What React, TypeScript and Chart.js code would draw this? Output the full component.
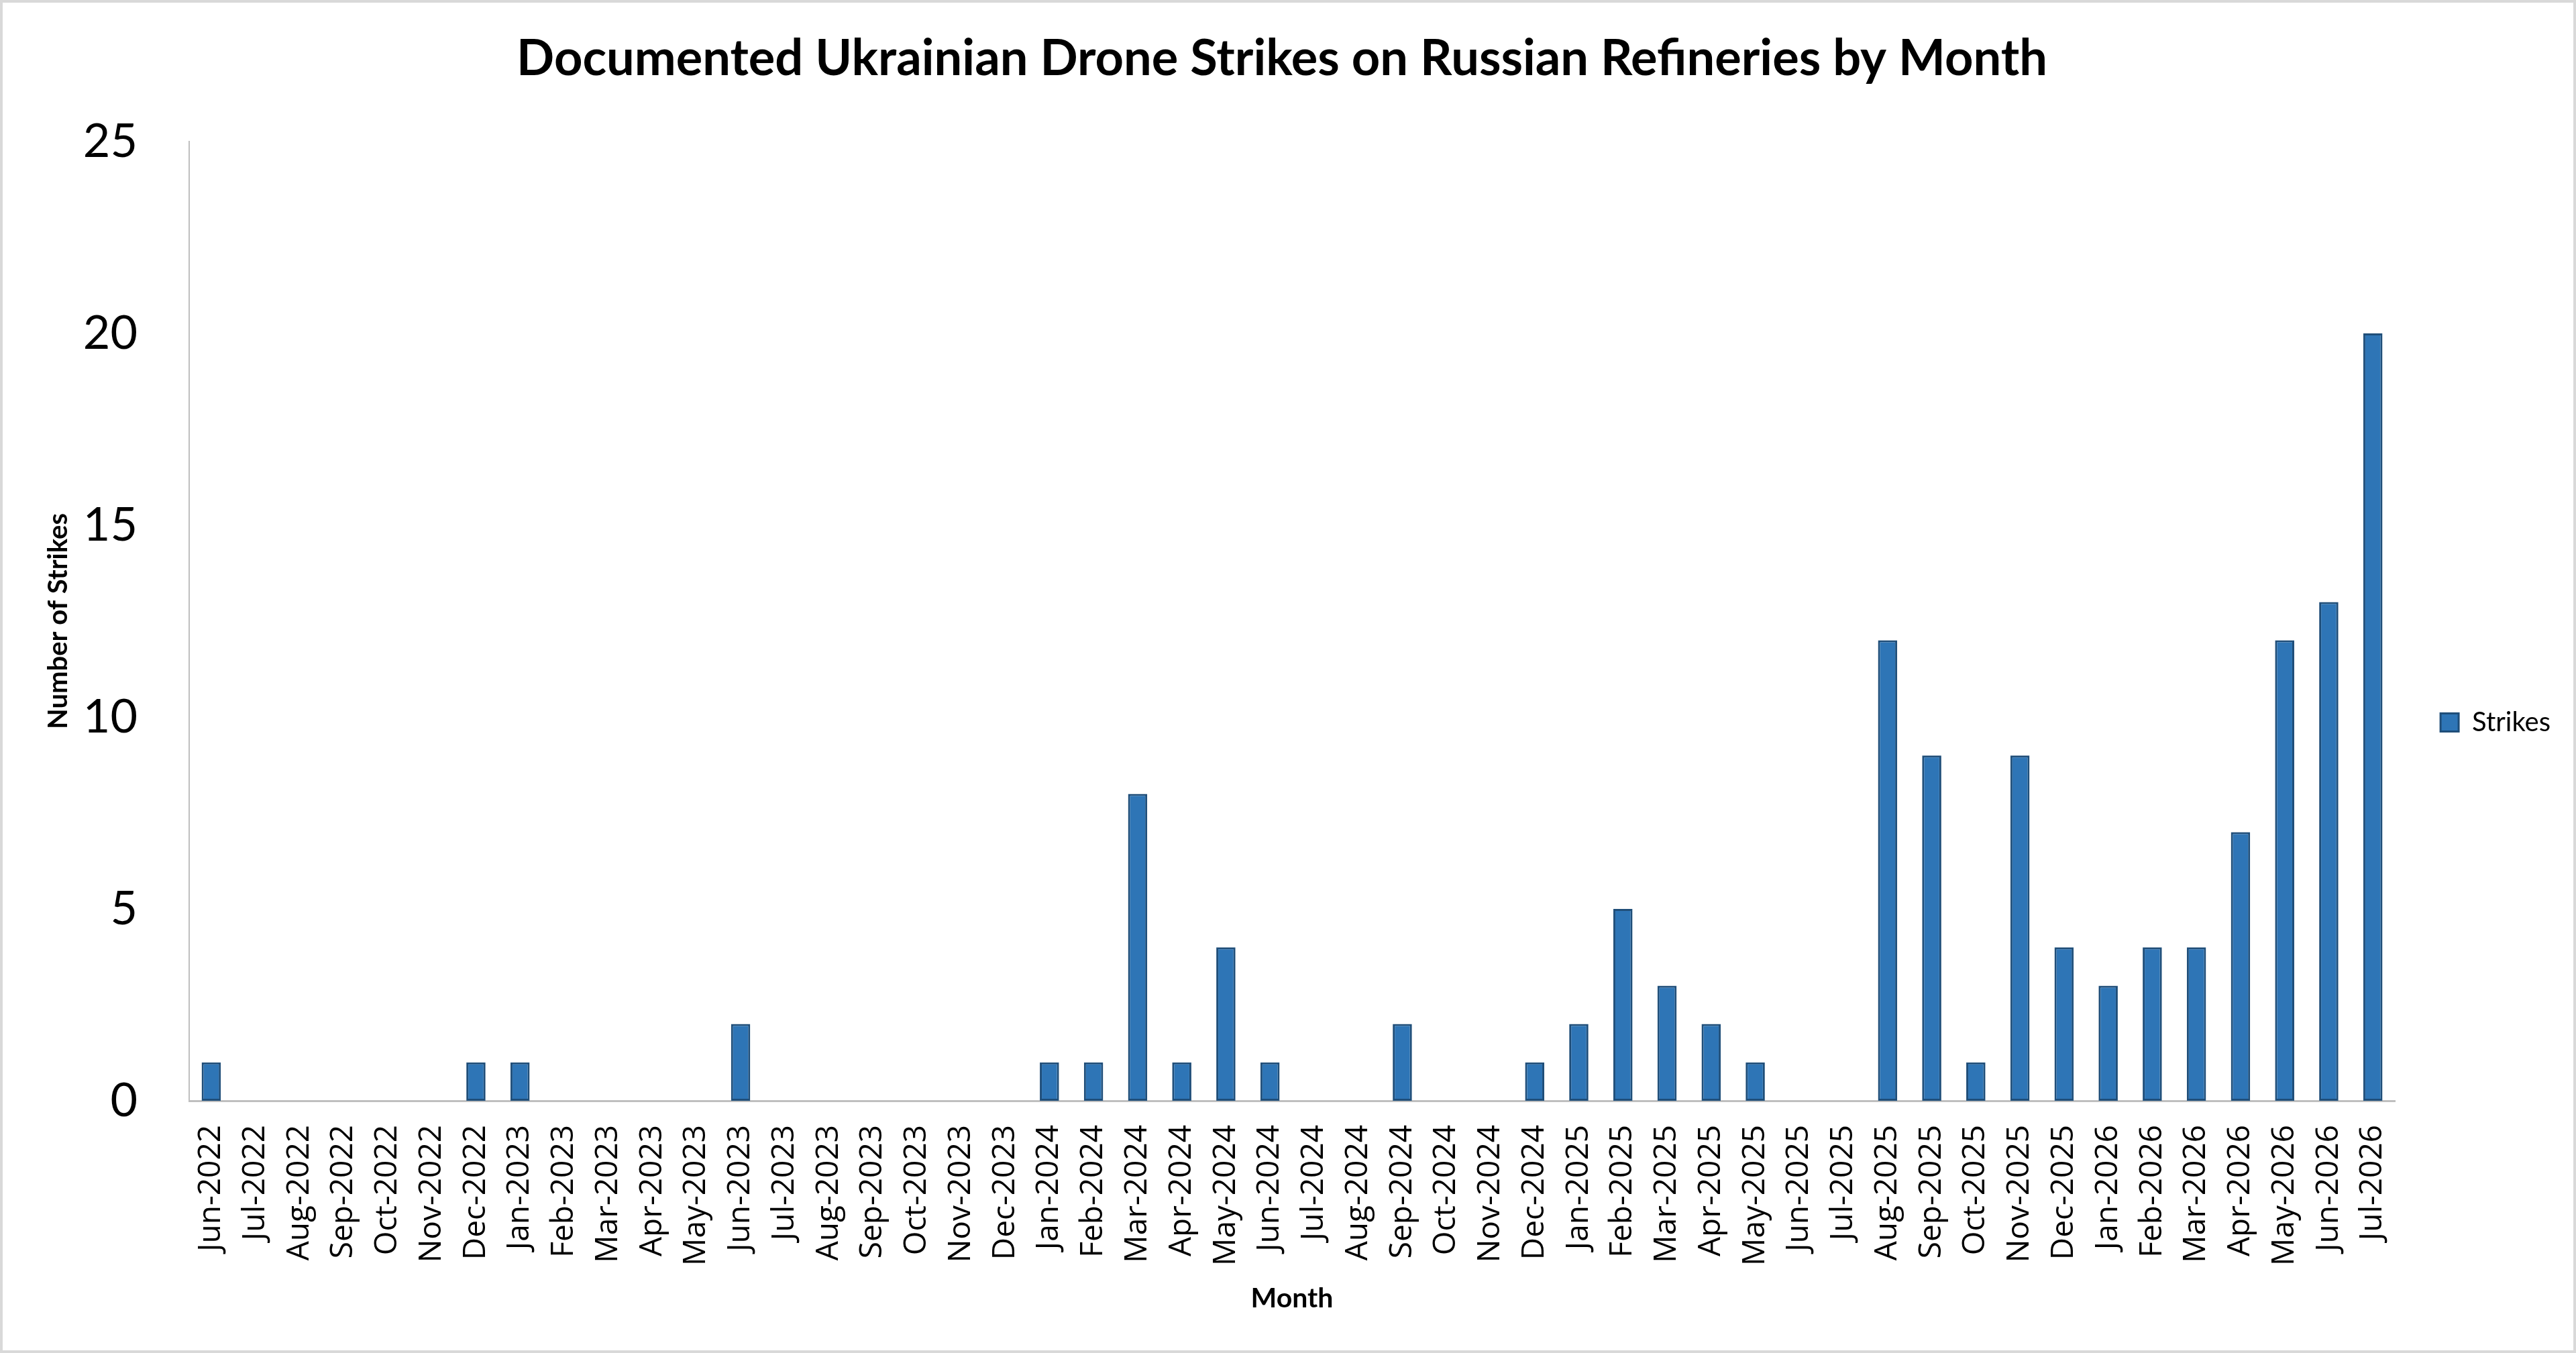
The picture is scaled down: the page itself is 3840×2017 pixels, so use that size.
import React, { useEffect, useRef } from 'react';
import { Chart, registerables } from 'chart.js';

Chart.register(...registerables);

const chartTitle = 'Documented Ukrainian Drone Strikes on Russian Refineries by Month';
const seriesName = 'Strikes';
const xTitle = 'Month';
const yTitle = 'Number of Strikes';

const months = [
  'Jun-2022', 'Jul-2022', 'Aug-2022', 'Sep-2022', 'Oct-2022', 'Nov-2022', 'Dec-2022',
  'Jan-2023', 'Feb-2023', 'Mar-2023', 'Apr-2023', 'May-2023', 'Jun-2023',
  'Jul-2023', 'Aug-2023', 'Sep-2023', 'Oct-2023', 'Nov-2023', 'Dec-2023',
  'Jan-2024', 'Feb-2024', 'Mar-2024', 'Apr-2024', 'May-2024', 'Jun-2024',
  'Jul-2024', 'Aug-2024', 'Sep-2024', 'Oct-2024', 'Nov-2024', 'Dec-2024',
  'Jan-2025', 'Feb-2025', 'Mar-2025', 'Apr-2025', 'May-2025', 'Jun-2025',
  'Jul-2025', 'Aug-2025', 'Sep-2025', 'Oct-2025', 'Nov-2025', 'Dec-2025',
  'Jan-2026', 'Feb-2026', 'Mar-2026', 'Apr-2026', 'May-2026', 'Jun-2026', 'Jul-2026',
];

const strikes2022 = [1, 0, 0, 0, 0, 0, 1];
const strikes2023 = [1, 0, 0, 0, 0, 2, 0, 0, 0, 0, 0, 0];
const strikes2024 = [1, 1, 8, 1, 4, 1, 0, 0, 2, 0, 0, 1];
const strikes2025 = [2, 5, 3, 2, 1, 0, 0, 12, 9, 1, 9, 4];
const strikes2026 = [3, 4, 4, 7, 12, 13, 20];
const strikes = [...strikes2022, ...strikes2023, ...strikes2024, ...strikes2025, ...strikes2026];

const yTicks = [0, 5, 10, 15, 20, 25];

const W = 3840;
const H = 2017;

const framePlugin = {
  id: 'frame',
  beforeDraw(chart: any) {
    const { ctx } = chart;
    ctx.save();
    ctx.fillStyle = '#ffffff';
    ctx.fillRect(0, 0, chart.width, chart.height);
    ctx.restore();
  },
  afterDraw(chart: any) {
    const { ctx } = chart;
    ctx.save();
    ctx.strokeStyle = '#d9d9d9';
    ctx.lineWidth = 8;
    ctx.strokeRect(0, 0, chart.width, chart.height);
    ctx.restore();
  },
};

export default function App() {
  const canvasRef = useRef<HTMLCanvasElement | null>(null);

  useEffect(() => {
    let chart: Chart | null = null;
    let cancelled = false;

    const build = () => {
      if (cancelled || !canvasRef.current) return;
      chart = new Chart(canvasRef.current, {
        type: 'bar',
        data: {
          labels: months,
          datasets: [
            {
              label: seriesName,
              data: strikes,
              backgroundColor: '#2E75B6',
              borderColor: '#1F4E79',
              borderWidth: 3,
              borderSkipped: false,
              barPercentage: 0.435,
              categoryPercentage: 1,
            },
          ],
        },
        options: {
          responsive: false,
          animation: false,
          devicePixelRatio: 1,
          layout: { padding: { left: 10, right: 28, top: 0, bottom: 10 } },
          plugins: {
            title: {
              display: true,
              text: chartTitle,
              color: '#000000',
              font: { family: 'Lato', weight: 'bold', size: 74 },
              padding: { top: 44, bottom: 78.2 },
            },
            legend: {
              display: true,
              position: 'right',
              align: 'center',
              title: {
                display: true,
                text: ' ',
                padding: { top: 0, bottom: 135 },
                font: { size: 10 },
              },
              labels: {
                boxWidth: 27,
                boxHeight: 27,
                padding: 68,
                color: '#000000',
                font: { family: 'Lato', size: 40 },
              },
            },
            tooltip: { enabled: false },
          },
          scales: {
            x: {
              grid: { display: false, drawTicks: false },
              border: { display: true, color: '#bfbfbf', width: 3 },
              ticks: {
                autoSkip: false,
                maxRotation: 90,
                minRotation: 90,
                padding: 36,
                color: '#000000',
                font: { family: 'Open Sans', size: 46 },
              },
              title: {
                display: true,
                text: xTitle,
                color: '#000000',
                font: { family: 'Lato', weight: 'bold', size: 41 },
                padding: { top: 0, bottom: 47 },
              },
              afterFit: (s: any) => {
                s.height = 366;
              },
            },
            y: {
              min: 0,
              max: 25,
              grid: { display: false, drawTicks: false },
              border: { display: true, color: '#bfbfbf', width: 2 },
              afterBuildTicks: (s: any) => {
                s.ticks = yTicks.map((v) => ({ value: v }));
              },
              ticks: {
                stepSize: 5,
                padding: 77,
                color: '#000000',
                font: { family: 'Lato', size: 70 },
              },
              title: {
                display: true,
                text: yTitle,
                color: '#000000',
                font: { family: 'Lato', weight: 'bold', size: 40 },
                padding: { top: 53, bottom: 0 },
              },
              afterFit: (s: any) => {
                s.width = 272;
              },
            },
          },
        },
        plugins: [framePlugin],
      } as any);
    };

    const fontsToLoad = [
      'bold 74px Lato',
      '70px Lato',
      '40px Lato',
      'bold 40px Lato',
      '46px "Open Sans"',
    ];
    const fs: any = (document as any).fonts;
    if (fs && fs.load) {
      Promise.all(fontsToLoad.map((f) => fs.load(f).catch(() => null)))
        .then(build, build);
    } else {
      build();
    }

    return () => {
      cancelled = true;
      if (chart) chart.destroy();
    };
  }, []);

  return (
    <div style={{ position: 'fixed', left: 0, top: 0, width: W, height: H, background: '#fff' }}>
      <canvas ref={canvasRef} width={W} height={H} style={{ width: W, height: H, display: 'block' }} />
    </div>
  );
}
